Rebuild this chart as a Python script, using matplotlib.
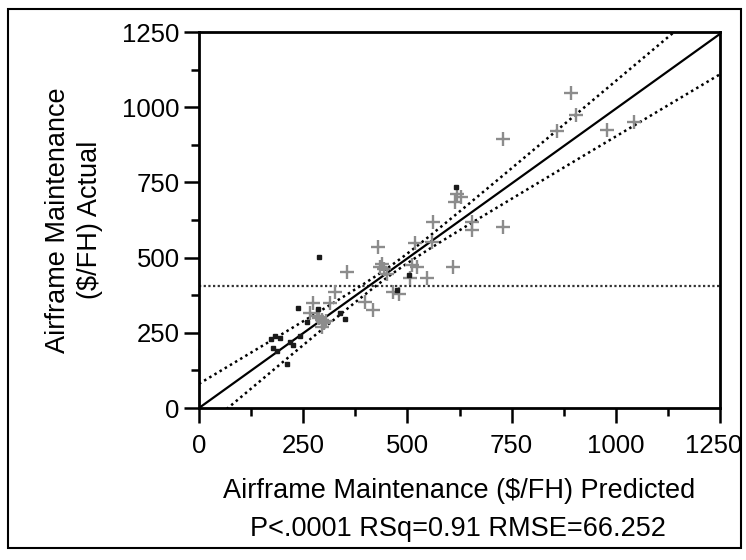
import numpy as np
import matplotlib
matplotlib.use("Agg")
import matplotlib.pyplot as plt
from matplotlib.patches import Rectangle
from matplotlib.ticker import MultipleLocator
from matplotlib.transforms import ScaledTranslation

plt.rcParams['font.family'] = ['Liberation Sans', 'DejaVu Sans']

# gray "+" markers (predicted, actual)
plus_pred = [893, 904, 860, 980, 1043, 730, 618, 614, 628, 561, 654, 654, 730,
             558, 518, 430, 434, 445, 440, 450, 510, 522, 610, 354, 506, 546,
             326, 466, 480, 398, 418, 314, 274, 266, 294, 288, 300, 296, 305, 284]
plus_act = [1047, 975, 920, 925, 950, 893, 712, 686, 700, 619, 619, 592, 602,
            553, 548, 536, 470, 462, 480, 447, 475, 468, 468, 453, 431, 431,
            387, 387, 380, 353, 326, 348, 348, 315, 293, 300, 282, 270, 288, 305]

# small dark markers
sq_pred = [617, 287, 504, 474, 237, 286, 350, 338, 258, 182, 194, 178, 188,
           218, 226, 210, 242, 173]
sq_act = [735, 502, 443, 392, 333, 328, 295, 315, 287, 240, 232, 198, 190,
          220, 209, 145, 240, 229]

mean_actual = 405
fit_slope = 0.995
band_c, band_k, band_xbar = 15, 0.17, 465

fig = plt.figure(figsize=(7.46, 5.60), dpi=100)
ax = fig.add_axes([199 / 746, 1 - 408 / 560, 521 / 746, 376 / 560])

xs = np.linspace(0, 1250, 300)
fit = fit_slope * xs
w = np.sqrt(band_c ** 2 + band_k ** 2 * (xs - band_xbar) ** 2)
ax.plot(xs, fit, color='black', lw=1.6, zorder=3)
ax.plot(xs, fit + w, color='black', lw=1.8, ls=(0, (1, 1.4)), zorder=3)
ax.plot(xs, fit - w, color='black', lw=1.8, ls=(0, (1, 1.4)), zorder=3)
ax.axhline(mean_actual, color='#333333', lw=1.6, ls=(0, (1, 1.1)), zorder=2)

ax.plot(plus_pred, plus_act, ls='none', marker='+', ms=10.5, mew=1.7,
        color='#8c8c8c', zorder=4)
ax.plot(sq_pred, sq_act, ls='none', marker='s', ms=3.2, color='#1a1a1a', zorder=5)

ax.set_xlim(0, 1250)
ax.set_ylim(0, 1250)
ax.set_xticks([0, 250, 500, 750, 1000, 1250])
ax.xaxis.set_minor_locator(MultipleLocator(125))
ax.yaxis.set_major_locator(MultipleLocator(250))
ax.yaxis.set_minor_locator(MultipleLocator(125))
ax.tick_params(which='major', length=11, width=1.8, labelsize=18.5, pad=8)
ax.tick_params(which='minor', length=6, width=1.8)
ax.tick_params(axis='y', which='major', pad=3)
for s in ax.spines.values():
    s.set_linewidth(2.0)

# nudge the last x tick label so it stays inside the picture
last = ax.xaxis.get_major_ticks()[-1].label1
last.set_transform(last.get_transform() + ScaledTranslation(-6 / 100, 0, fig.dpi_scale_trans))

ax.set_xlabel('Airframe Maintenance ($/FH) Predicted', fontsize=19.5, labelpad=14)
ax.set_ylabel('Airframe Maintenance\n($/FH) Actual', fontsize=19.5, labelpad=14,
              linespacing=1.3)
fig.text(458 / 746, 1 - 529 / 560, 'P<.0001 RSq=0.91 RMSE=66.252',
         fontsize=19.5, ha='center', va='center')

fig.patches.append(Rectangle((8 / 746, 1 - 548 / 560), 733 / 746, 539 / 560,
                             transform=fig.transFigure, fill=False,
                             edgecolor='black', lw=1.5))

fig.savefig('out.png', dpi=100)
